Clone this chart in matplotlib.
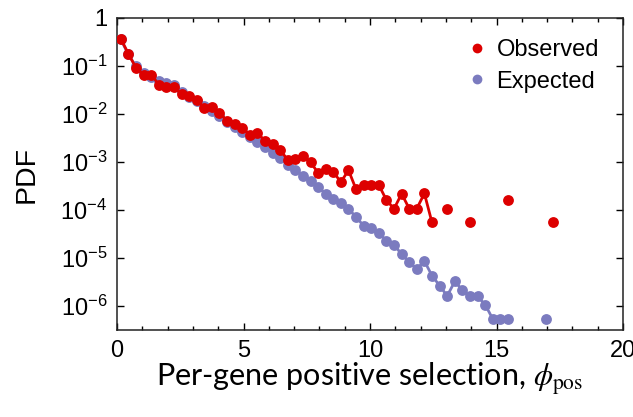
import numpy as np
import matplotlib
matplotlib.use("Agg")
import matplotlib.pyplot as plt
from matplotlib.ticker import FixedLocator, LogLocator, NullFormatter, MultipleLocator

# ---------------- data ----------------
bin_width = 0.3
# Observed: bin centres and PDF values (empty bins omitted)
obs_x = [0.15, 0.45, 0.75, 1.05, 1.35, 1.65, 1.95, 2.25, 2.55, 2.85,
         3.15, 3.45, 3.75, 4.05, 4.35, 4.65, 4.95, 5.25, 5.55, 5.85,
         6.15, 6.45, 6.75, 7.05, 7.35, 7.65, 7.95, 8.25, 8.55, 8.85,
         9.15, 9.45, 9.75, 10.05, 10.35, 10.65, 10.95, 11.25, 11.55, 11.85,
         12.15, 12.45, 13.05, 13.95, 15.45, 17.25]
obs_y = [0.370, 0.180, 0.0916, 0.0655, 0.0665, 0.0411, 0.0373, 0.0361, 0.0263, 0.0234,
         0.0193, 0.0136, 0.0138, 0.0107, 0.00718, 0.00631, 0.00502, 0.00372, 0.00403, 0.00274,
         0.00233, 0.00175, 0.00112, 0.00117, 0.00131, 0.00098, 0.000598, 0.000724, 0.000618, 0.000382,
         0.000675, 0.000270, 0.000331, 0.000331, 0.000331, 0.000161, 0.000106, 0.000218, 0.000107, 0.000107,
         0.000221, 5.5e-5, 1.07e-4, 5.5e-5, 1.63e-4, 5.5e-5]

exp_x = [0.15, 0.45, 0.75, 1.05, 1.35, 1.65, 1.95, 2.25, 2.55, 2.85,
         3.15, 3.45, 3.75, 4.05, 4.35, 4.65, 4.95, 5.25, 5.55, 5.85,
         6.15, 6.45, 6.75, 7.05, 7.35, 7.65, 7.95, 8.25, 8.55, 8.85,
         9.15, 9.45, 9.75, 10.05, 10.35, 10.65, 10.95, 11.25, 11.55, 11.85,
         12.15, 12.45, 12.75, 13.05, 13.35, 13.65, 13.95, 14.25, 14.55, 14.85,
         15.15, 15.45, 16.95]
exp_y = [0.357, 0.174, 0.0977, 0.0731, 0.0604, 0.0498, 0.0453, 0.0411, 0.0294, 0.0231,
         0.0190, 0.0150, 0.0118, 0.00904, 0.00694, 0.00546, 0.00429, 0.00338, 0.00265, 0.00204,
         0.00156, 0.00120, 0.000878, 0.000691, 0.000518, 0.000394, 0.000301, 0.000218, 0.000171, 0.000139,
         0.000106, 7.11e-5, 4.68e-5, 4.19e-5, 3.30e-5, 2.31e-5, 1.88e-5, 1.20e-5, 8.17e-6, 5.86e-6,
         8.69e-6, 4.27e-6, 2.67e-6, 1.62e-6, 3.24e-6, 2.16e-6, 1.58e-6, 1.58e-6, 1.07e-6, 5.4e-7,
         5.4e-7, 5.4e-7, 5.4e-7]

labels = ["Observed", "Expected"]
x_ticks = [0, 5, 10, 15, 20]
y_ticks = [1, 1e-1, 1e-2, 1e-3, 1e-4, 1e-5, 1e-6]
y_ticklabels = ["1", r"$\mathregular{10^{-1}}$", r"$\mathregular{10^{-2}}$", r"$\mathregular{10^{-3}}$",
                r"$\mathregular{10^{-4}}$", r"$\mathregular{10^{-5}}$", r"$\mathregular{10^{-6}}$"]

# ---------------- style ----------------
plt.rcParams["font.family"] = ["Liberation Sans", "DejaVu Sans"]
plt.rcParams["mathtext.fontset"] = "stix"

red = "#DD0000"
blue = "#7B7BBF"


def with_gaps(x, y, w):
    """Insert NaN between non-adjacent bins so lines break over empty bins."""
    xs, ys = [x[0]], [y[0]]
    for i in range(1, len(x)):
        if x[i] - x[i - 1] > 1.5 * w:
            xs.append(np.nan)
            ys.append(np.nan)
        xs.append(x[i])
        ys.append(y[i])
    return np.array(xs), np.array(ys)


fig = plt.figure(figsize=(6.33, 4.17), dpi=100)
ax = fig.add_axes([117 / 633, 87 / 417, (623 - 117) / 633, (330 - 18) / 417])

ex, ey = with_gaps(exp_x, exp_y, bin_width)
ox, oy = with_gaps(obs_x, obs_y, bin_width)

ax.plot(ex, ey, "-", color=blue, lw=2.0, zorder=2)
ax.plot(exp_x, exp_y, "o", color=blue, ms=7.8, mec="none", zorder=3, label=labels[1])
ax.plot(ox, oy, "-", color=red, lw=2.0, zorder=4)
ax.plot(obs_x, obs_y, "o", color=red, ms=7.8, mec="none", zorder=5, label=labels[0])

ax.set_yscale("log")
ax.set_xlim(0, 20)
ax.set_ylim(10 ** -6.5, 1)

ax.xaxis.set_major_locator(FixedLocator(x_ticks))
ax.xaxis.set_minor_locator(MultipleLocator(1))
ax.set_xticklabels([str(t) for t in x_ticks])
ax.yaxis.set_major_locator(FixedLocator(y_ticks))
ax.set_yticklabels(y_ticklabels)
ax.yaxis.set_minor_locator(LogLocator(base=10, subs=np.arange(2, 10)))
ax.yaxis.set_minor_formatter(NullFormatter())

ax.tick_params(axis="both", which="both", direction="in", top=True, right=True,
               labelsize=17, colors="black", width=1.0)
ax.tick_params(axis="both", which="major", length=5, pad=7)
ax.tick_params(axis="both", which="minor", length=3)
ax.tick_params(axis="y", which="minor", left=False, right=True)
for s in ax.spines.values():
    s.set_linewidth(1.1)
    s.set_color("#222222")

ax.set_ylabel("PDF", fontsize=20.5, labelpad=15)
ax.set_xlabel(r"Per-gene positive selection, $\phi_{\rm pos}$", fontsize=22,
              family=["Lato", "DejaVu Sans"], labelpad=-1)

handles, labs = ax.get_legend_handles_labels()
order = [labs.index(labels[0]), labs.index(labels[1])]
leg = ax.legend([handles[i] for i in order], [labs[i] for i in order],
                loc="upper right", bbox_to_anchor=(0.985, 0.985), frameon=False,
                fontsize=17, handlelength=0.6, handletextpad=0.5, labelspacing=0.4,
                borderpad=0.2, markerscale=0.9)

fig.savefig("out.png", dpi=100)
